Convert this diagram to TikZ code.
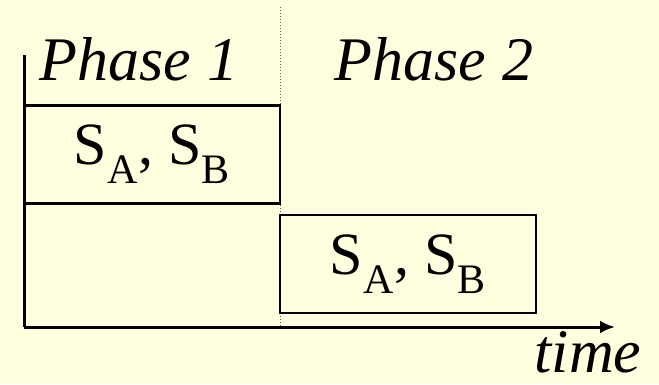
\documentclass[tikz,border=0pt]{standalone}
\usepackage{fontspec}
\setmainfont{Liberation Serif}
\usetikzlibrary{arrows.meta}
\definecolor{bgyellow}{RGB}{255,255,224}
\tikzset{
  slot/.style={draw, line width=1.3pt, minimum width=256pt, minimum height=98pt, inner sep=0pt, font=\fontsize{60}{66}\selectfont},
  phase/.style={anchor=base, inner sep=0pt, font=\fontsize{62}{68}\selectfont\itshape}
}
\begin{document}
\begin{tikzpicture}[x=1pt, y=-1pt]
    \fill[bgyellow] (0,0) rectangle (659,384);

    % Axes
    \coordinate (o) at (24,327);
    \coordinate (top) at (24,55);
    \coordinate (tip) at (615,327);
    \coordinate (cut) at (280,7);
    \coordinate (cutb) at (280,327);
    \draw[gray!70!black, line width=1pt, dotted] (cut) -- (cutb);
    \draw[line width=3pt] (top) -- (o);
    \draw[line width=3pt, -{Latex[length=15pt, width=13pt]}] (o) -- (tip);

    % Slots
    \node[slot, line width=2.5pt] (s1) at (152,154.5) {S\textsubscript{A}, S\textsubscript{B}};
    \node[slot] (s2) at (408,264) {S\textsubscript{A}, S\textsubscript{B}};

    % Labels
    \node[phase] (p1) at (139,80) {Phase 1};
    \node[phase] (p2) at (434,80) {Phase 2};
    \node[phase] (t) at (588,372) {time};
\end{tikzpicture}
\end{document}
